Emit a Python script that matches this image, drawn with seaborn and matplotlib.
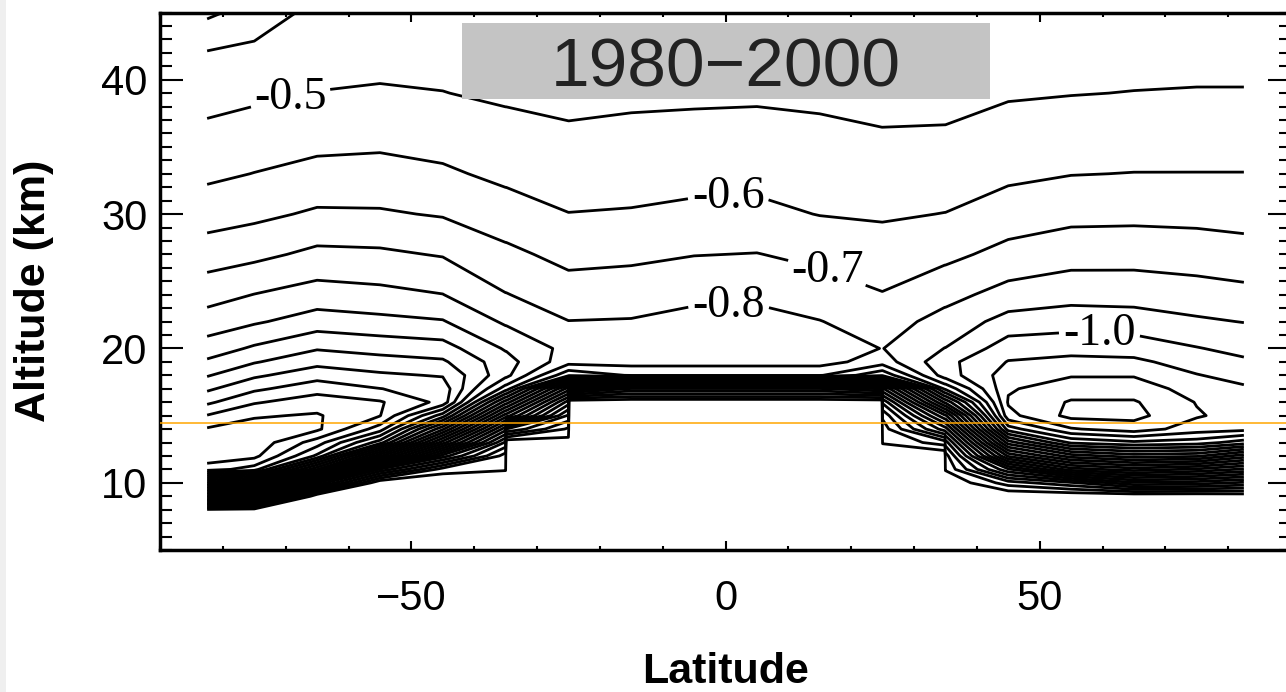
import numpy as np
import matplotlib
matplotlib.use("Agg")
import matplotlib.pyplot as plt
from matplotlib.patches import Rectangle
from matplotlib.ticker import MultipleLocator, FixedLocator
import seaborn as sns

# ---------------- data ----------------
# grid columns (two columns a hair apart at +-25 / +-35 carry the stepped lower edge)
latitudes = [-82.5, -75, -65, -55, -45, -35, -34.9, -25, -24.9, -15, -5, 5, 15,
             24.9, 25, 34.9, 35, 45, 55, 65, 75, 82.5]
altitudes = [7, 8, 9, 10, 11, 12, 13, 14, 15, 16, 17, 18, 19, 20, 22, 24, 27, 30, 33, 36, 39, 42, 45]

# rows follow `altitudes`, columns follow `latitudes`
trend = [
    [1.1, 1.1, 1.1, 1.1, 1.1, 1.1, 1.1, 1.1, 1.1, 1.1, 1.1, 1.1, 1.1, 1.1, 1.1, 1.1, 1.1, 1.1, 1.1, 1.1, 1.1, 1.1],
    [1.02, 1.05, 1.1, 1.1, 1.1, 1.1, 1.1, 1.1, 1.1, 1.1, 1.1, 1.1, 1.1, 1.1, 1.1, 1.1, 1.1, 1.1, 1.1, 1.1, 1.1, 1.1],
    [0.02, 0.15, 1.1, 1.1, 1.1, 1.1, 1.1, 1.1, 1.1, 1.1, 1.1, 1.1, 1.1, 1.1, 1.1, 1.1, 1.1, 1.1, 1.1, 1.1, 1.1, 1.08],
    [-0.85, -0.75, 0.4, 1.1, 1.1, 1.1, 1.1, 1.1, 1.1, 1.1, 1.1, 1.1, 1.1, 1.1, 1.1, 1.1, 1.1, 0.85, 0.72, 0.52, 0.55, 0.62],
    [-1.55, -1.45, -0.71, 0.52, 0.95, 0.99, 1.1, 1.1, 1.1, 1.1, 1.1, 1.1, 1.1, 1.1, 1.1, 1.1, 0.99, 0.42, 0.05, -0.05, 0.02, 0.12],
    [-1.66, -1.63, -1.28, -0.42, 0.45, 0.95, 1.1, 1.1, 1.1, 1.1, 1.1, 1.1, 1.1, 1.1, 1.1, 1.1, 0.95, -0.12, -0.45, -0.55, -0.52, -0.35],
    [-1.67, -1.67, -1.45, -1.05, -0.15, 0.72, 1.1, 1.05, 1.1, 1.1, 1.1, 1.1, 1.1, 1.1, 0.99, 0.85, 0.75, -0.55, -0.92, -0.98, -0.95, -0.85],
    [-1.61, -1.64, -1.62, -1.35, -0.62, 0.36, 0.6, 0.92, 1.1, 1.1, 1.1, 1.1, 1.1, 1.1, 0.95, 0.45, 0.45, -0.95, -1.19, -1.25, -1.15, -1.13],
    [-1.505, -1.59, -1.61, -1.505, -1.05, -0.05, -0.05, 0.72, 1.1, 1.1, 1.1, 1.1, 1.1, 1.1, 0.88, 0.12, 0.12, -1.17, -1.33, -1.33, -1.21, -1.16],
    [-1.38, -1.489, -1.555, -1.51, -1.37, -0.45, -0.45, 0.45, 1.1, 1.1, 1.1, 1.1, 1.1, 1.1, 0.68, -0.32, -0.32, -1.21, -1.31, -1.31, -1.195, -1.15],
    [-1.282, -1.38, -1.46, -1.402, -1.36, -0.85, -0.85, 0.05, 0.4, 0.62, 0.62, 0.62, 0.62, 0.5, 0.32, -0.72, -0.72, -1.19, -1.25, -1.25, -1.16, -1.115],
    [-1.192, -1.282, -1.36, -1.317, -1.292, -1.03, -1.03, -0.62, -0.62, -0.71, -0.71, -0.71, -0.71, -0.52, -0.52, -0.95, -0.95, -1.15, -1.193, -1.193, -1.105, -1.065],
    [-1.115, -1.192, -1.269, -1.238, -1.215, -1.04, -1.04, -0.84, -0.84, -0.84, -0.84, -0.84, -0.84, -0.75, -0.75, -0.97, -0.97, -1.105, -1.127, -1.121, -1.055, -1.015],
    [-1.047, -1.115, -1.192, -1.164, -1.143, -0.989, -0.989, -0.87, -0.87, -0.86, -0.86, -0.86, -0.85, -0.798, -0.798, -0.902, -0.902, -1.053, -1.067, -1.056, -1.005, -0.973],
    [-0.943, -0.987, -1.047, -1.027, -1.007, -0.884, -0.884, -0.802, -0.802, -0.806, -0.83, -0.83, -0.803, -0.756, -0.756, -0.835, -0.835, -0.9375, -0.956, -0.945, -0.914, -0.897],
    [-0.862, -0.902, -0.943, -0.927, -0.902, -0.804, -0.804, -0.746, -0.746, -0.754, -0.778, -0.782, -0.75, -0.705, -0.705, -0.769, -0.769, -0.836, -0.863, -0.861, -0.843, -0.828],
    [-0.75, -0.775, -0.823, -0.817, -0.793, -0.724, -0.724, -0.67, -0.67, -0.679, -0.697, -0.703, -0.674, -0.644, -0.644, -0.675, -0.675, -0.731, -0.759, -0.761, -0.751, -0.737],
    [-0.656, -0.677, -0.714, -0.711, -0.692, -0.643, -0.643, -0.602, -0.602, -0.607, -0.621, -0.624, -0.597, -0.589, -0.589, -0.602, -0.602, -0.647, -0.672, -0.675, -0.672, -0.665],
    [-0.58, -0.602, -0.63, -0.634, -0.615, -0.578, -0.578, -0.555, -0.555, -0.5625, -0.569, -0.57, -0.558, -0.546, -0.546, -0.553, -0.553, -0.58, -0.597, -0.602, -0.602, -0.602],
    [-0.522, -0.54, -0.561, -0.569, -0.556, -0.531, -0.531, -0.51, -0.51, -0.521, -0.526, -0.528, -0.519, -0.504, -0.504, -0.506, -0.506, -0.53, -0.546, -0.55, -0.553, -0.553],
    [-0.463, -0.481, -0.502, -0.51, -0.502, -0.484, -0.484, -0.478, -0.478, -0.48, -0.483, -0.486, -0.48, -0.478, -0.478, -0.478, -0.478, -0.492, -0.497, -0.502, -0.505, -0.505],
    [-0.406, -0.4245, -0.465, -0.468, -0.466, -0.466, -0.466, -0.468, -0.468, -0.47, -0.469, -0.47, -0.47, -0.467, -0.467, -0.467, -0.467, -0.471, -0.469, -0.47, -0.472, -0.472],
    [-0.28, -0.34, -0.43, -0.43, -0.43, -0.44, -0.44, -0.45, -0.45, -0.45, -0.45, -0.45, -0.45, -0.45, -0.45, -0.45, -0.45, -0.45, -0.44, -0.44, -0.44, -0.44],
]

contour_levels = np.round(np.arange(-17, 11) / 10.0, 1)      # -1.7 ... 1.0 every 0.1
labelled_levels = [-1.0, -0.8, -0.7, -0.6, -0.5]
label_spots = [(59.5, 20.9), (0.5, 23.6), (16.4, 26.0), (0.5, 30.8), (-69.2, 38.6)]
marker_lat = [-90, 90]
marker_alt = [14.45, 14.45]
period_text = "1980\u22122000"
x_major = [-50, 0, 50]
y_major = [10, 20, 30, 40]

# ---------------- styling ----------------
sns.set_theme(style="ticks")
plt.rcParams["font.family"] = ["Liberation Sans", "DejaVu Sans"]

W, H = 1286, 692
fig = plt.figure(figsize=(W / 100, H / 100), dpi=100)
fig.patch.set_facecolor("white")
fig.add_artist(Rectangle((0, 0), 6 / W, 1, transform=fig.transFigure,
                         facecolor="#efefef", edgecolor="none"))

ax_left, ax_right, ax_top, ax_bottom = 160, 1291, 12.5, 550
ax = fig.add_axes([ax_left / W, (H - ax_bottom) / H,
                   (ax_right - ax_left) / W, (ax_bottom - ax_top) / H])
ax.set_facecolor("white")

Z = np.array(trend)
plain_levels = [lv for lv in contour_levels if not any(abs(lv - q) < 1e-9 for q in labelled_levels)]
line_kw = dict(colors="black", linewidths=2.0, linestyles="solid")
ax.contour(latitudes, altitudes, Z, levels=plain_levels, **line_kw)
cs_lab = ax.contour(latitudes, altitudes, Z, levels=labelled_levels, **line_kw)

with plt.rc_context({"font.family": ["Liberation Serif"]}):
    texts = ax.clabel(cs_lab, manual=label_spots, inline=True,
                      inline_spacing=8, fontsize=33, colors="black",
                      fmt=lambda v: f"{v:.1f}")
for t in texts:
    t.set_rotation(0)

# title box
ax.add_patch(Rectangle((-42.0, 38.6), 84.1, 5.6, facecolor="#c4c4c4",
                       edgecolor="none", zorder=5))
ax.text(0.1, 39.5, period_text, ha="center", va="baseline", fontsize=50,
        color="#222222", zorder=6)

# orange marker line
sns.lineplot(x=marker_lat, y=marker_alt, color="#ffa500", linewidth=1.1,
             ax=ax, zorder=7, legend=False)

ax.set_xlim(-90, 90)
ax.set_ylim(5, 45)
ax.xaxis.set_major_locator(FixedLocator(x_major))
ax.xaxis.set_minor_locator(MultipleLocator(10))
ax.yaxis.set_major_locator(FixedLocator(y_major))
ax.yaxis.set_minor_locator(MultipleLocator(1))

ax.tick_params(axis="x", which="major", direction="in", length=6.5, width=1.5,
               top=True, bottom=True, labelsize=30, pad=21, labelcolor="black", color="black")
ax.tick_params(axis="x", which="minor", direction="in", length=3, width=1.5,
               top=True, bottom=True, color="black")
ax.tick_params(axis="y", which="major", direction="in", length=16.5, width=1.5,
               left=True, right=True, labelsize=30, pad=9, labelcolor="black", color="black")
ax.tick_params(axis="y", which="minor", direction="in", length=8.5, width=1.5,
               left=True, right=True, color="black")

for s in ax.spines.values():
    s.set_visible(True)
    s.set_linewidth(2.5)
    s.set_color("black")

ax.set_xlabel("Latitude", fontsize=31, fontweight="bold", color="black")
ax.set_ylabel("Altitude (km)", fontsize=31, fontweight="bold", color="black")
ax.xaxis.set_label_coords(0.5, -0.19)
ax.yaxis.set_label_coords(-0.094, 0.482)

fig.savefig("out.png", dpi=100)
